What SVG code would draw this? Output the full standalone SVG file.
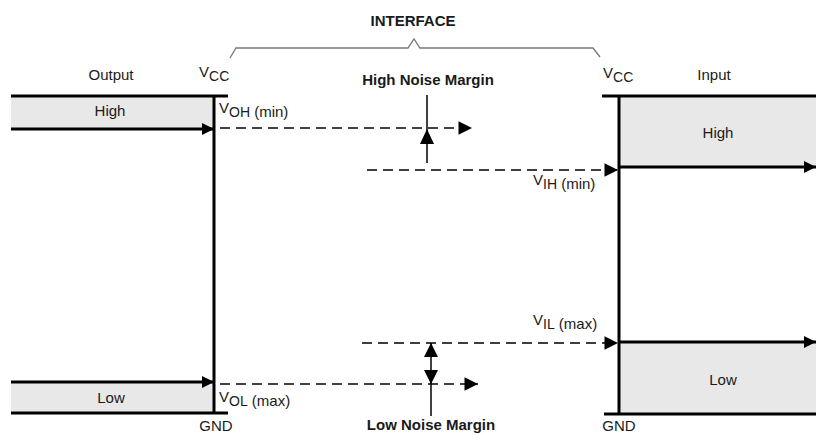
<svg xmlns="http://www.w3.org/2000/svg" width="816" height="434" viewBox="0 0 816 434">
<defs>
<style>
text{font-family:"Liberation Sans",Arial,sans-serif;font-size:15px;fill:#1a1a1a}
.b{font-weight:bold}
.m{text-anchor:middle}
.sub{font-size:14px}
.bar{stroke:#000;stroke-width:3;fill:none}
.sig{stroke:#000;stroke-width:3;fill:none}
.dash{stroke:#000;stroke-width:1.5;stroke-dasharray:10 6;fill:none}
.thin{stroke:#000;stroke-width:1.5;fill:none}
.fill{fill:#e8e8e8}
.brace{stroke:#777;stroke-width:1.3;fill:none}
</style>
<marker id="ah" viewBox="0 0 10 10" refX="10" refY="5" markerWidth="4.5" markerHeight="4" markerUnits="strokeWidth" orient="auto"><path d="M0,0 L10,5 L0,10 z" fill="#000"/></marker>
<marker id="ahs" viewBox="0 0 10 10" refX="10" refY="5" markerWidth="10" markerHeight="9" markerUnits="strokeWidth" orient="auto"><path d="M0,0 L10,5 L0,10 z" fill="#000"/></marker>
</defs>

<g id="interface">
<path class="brace" d="M230,58 L236,48 L408,48 L414,39 L420,48 L593,48 L600,57"/>
<text class="b m" x="413" y="26">INTERFACE</text>
</g>

<g id="output">
<rect class="fill" x="11" y="96" width="203" height="33"/>
<rect class="fill" x="11" y="382" width="203" height="31"/>
<line class="bar" x1="11" y1="96" x2="228" y2="96"/>
<line class="bar" x1="11" y1="413" x2="228" y2="413"/>
<line class="bar" x1="214" y1="96" x2="214" y2="414"/>
<text class="m" x="111" y="80">Output</text>
<text x="199" y="81"><tspan dy="-4">V</tspan><tspan class="sub" dy="4">CC</tspan></text>
<text class="m" x="110" y="116">High</text>
<text class="m" x="111" y="403">Low</text>
<text class="m" x="216" y="431">GND</text>
</g>

<g id="input">
<rect class="fill" x="619" y="96" width="197" height="71"/>
<rect class="fill" x="619" y="342" width="197" height="72"/>
<line class="bar" x1="602" y1="96" x2="816" y2="96"/>
<line class="bar" x1="604" y1="414" x2="816" y2="414"/>
<line class="bar" x1="619" y1="96" x2="619" y2="415"/>
<text class="m" x="714" y="80">Input</text>
<text x="603" y="82"><tspan dy="-4">V</tspan><tspan class="sub" dy="4">CC</tspan></text>
<text class="m" x="718" y="138">High</text>
<text class="m" x="723" y="385">Low</text>
<text class="m" x="619" y="431">GND</text>
</g>

<g id="labels">
<text x="219" y="117"><tspan dy="-4">V</tspan><tspan class="sub" dy="4">OH</tspan> (min)</text>
<text x="533" y="189"><tspan dy="-4">V</tspan><tspan class="sub" dy="4">IH</tspan> (min)</text>
<text x="533" y="329"><tspan dy="-4">V</tspan><tspan class="sub" dy="4">IL</tspan> (max)</text>
<text x="219" y="406"><tspan dy="-4">V</tspan><tspan class="sub" dy="4">OL</tspan> (max)</text>
<text class="b m" x="428" y="85">High Noise Margin</text>
<text class="b m" x="431" y="430">Low Noise Margin</text>
</g>

<g id="connectors">
<line class="sig" x1="11" y1="129" x2="214" y2="129" marker-end="url(#ah)"/>
<line class="sig" x1="11" y1="382" x2="214" y2="382" marker-end="url(#ah)"/>
<line class="sig" x1="619" y1="167" x2="816" y2="167" marker-end="url(#ah)"/>
<line class="sig" x1="619" y1="342" x2="816" y2="342" marker-end="url(#ah)"/>
<line class="dash" x1="220" y1="128" x2="472" y2="128" marker-end="url(#ahs)"/>
<line class="dash" x1="367" y1="170" x2="618" y2="170" marker-end="url(#ahs)"/>
<line class="dash" x1="362" y1="343" x2="618" y2="343" marker-end="url(#ahs)"/>
<line class="dash" x1="220" y1="384" x2="478" y2="384" marker-end="url(#ahs)"/>
<line class="thin" x1="427" y1="95" x2="427" y2="163"/>
<path d="M427,129 L420,144 L434,144 z" fill="#000"/>
<line class="thin" x1="431" y1="343" x2="431" y2="416"/>
<path d="M431,343 L424,357 L438,357 z" fill="#000"/>
<path d="M431,384 L424,370 L438,370 z" fill="#000"/>
</g>
</svg>
